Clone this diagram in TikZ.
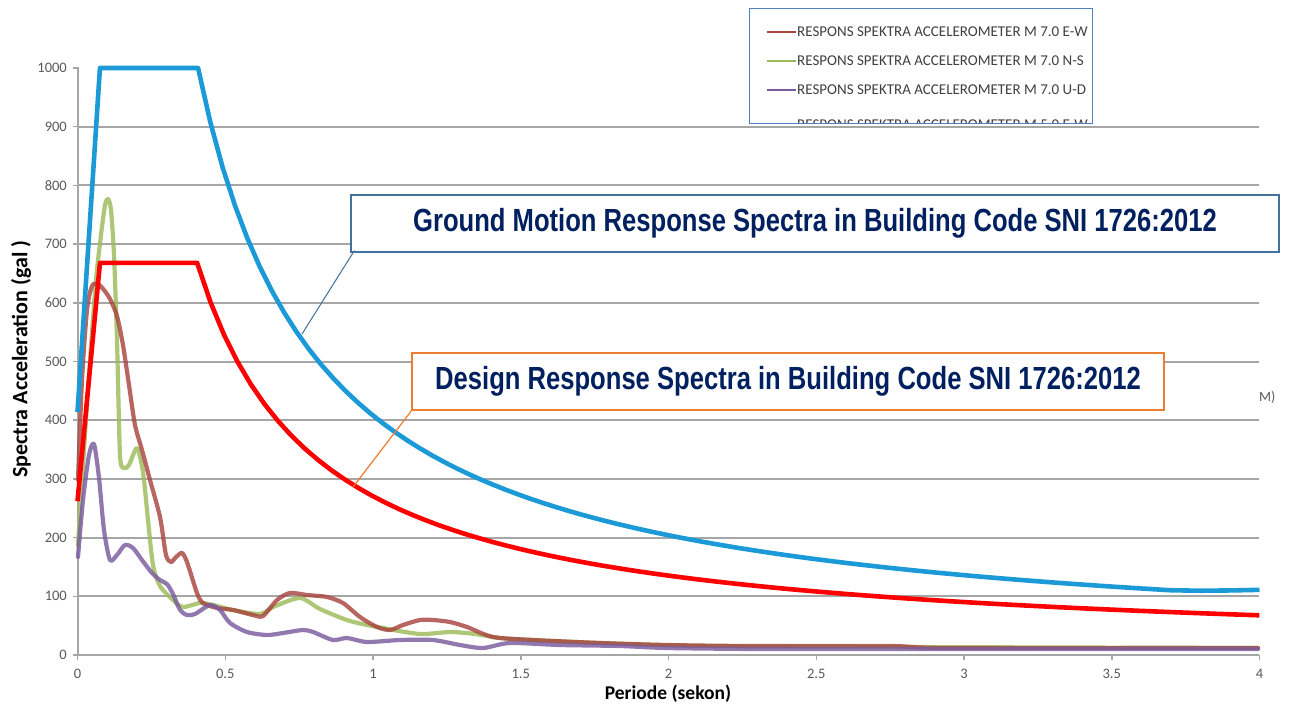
\documentclass[tikz,border=0pt]{standalone}
\usepackage{fontspec}
\setmainfont{Carlito}
\newfontfamily\lib{Liberation Sans}
\usepackage{graphicx}
\definecolor{gridgray}{HTML}{A6A6A6}
\definecolor{ticktext}{HTML}{595959}
\definecolor{dblue}{HTML}{1B9AD7}
\definecolor{dred}{HTML}{FF0000}
\definecolor{ewred}{HTML}{A8453F}
\definecolor{nsgreen}{HTML}{9BBB59}
\definecolor{udpurple}{HTML}{7A5C9E}
\definecolor{navy}{HTML}{002060}
\definecolor{callblue}{HTML}{41719C}
\definecolor{callorange}{HTML}{ED7D31}
\definecolor{legblue}{HTML}{4F81BD}
\definecolor{legtext}{HTML}{404040}
\tikzset{
  gridline/.style={draw=gridgray, line width=2pt},
  axisline/.style={draw=gridgray, line width=1.5pt},
  ticklab/.style={text=ticktext, font=\fontsize{14.5}{16}\selectfont, inner sep=0pt},
  accel/.style={line width=4.2pt, opacity=0.82, line join=round, line cap=round, smooth, tension=0.45},
  design/.style={line width=4.6pt, line join=round},
  callout/.style={fill=white, minimum height=57pt, inner sep=0pt, text=navy},
  legentry/.style={anchor=west, text=legtext, inner sep=0pt, font=\fontsize{15}{17}\selectfont},
  legsample/.style={line width=2pt}
}
\newcommand{\callfont}[1]{\scalebox{0.8}[1]{\lib\bfseries\fontsize{32}{36}\selectfont #1}}
\begin{document}
\begin{tikzpicture}[x=1pt,y=-1pt]
\useasboundingbox (0,0) rectangle (1290,706);
\fill[white] (0,0) rectangle (1290,706);

% grid lines
\foreach \v in {1,...,9}{
  \draw[gridline] (78,{655-58.7*\v}) -- (1259,{655-58.7*\v});
}
% axes
\draw[axisline] (78,655) -- (78,67);
\draw[axisline] (78,655) -- (1259,655);
% y ticks and labels
\foreach \v in {0,...,10}{
  \pgfmathtruncatemacro{\lab}{100*\v}
  \draw[axisline] (73,{655-58.7*\v}) -- (78,{655-58.7*\v});
  \node[ticklab, anchor=east] (yl\v) at (67,{655-58.7*\v}) {\lab};
}
% x ticks and labels
\foreach \t/\lab in {0/0,1/0.5,2/1,3/1.5,4/2,5/2.5,6/3,7/3.5,8/4}{
  \draw[axisline] ({77.5+147.75*\t},655) -- ({77.5+147.75*\t},660);
  \node[ticklab] (xl\t) at ({77.5+147.75*\t},674) {\lab};
}
% axis titles
\node[rotate=90, font=\bfseries\fontsize{22}{24}\selectfont, text=black] (ytitle) at (21,359) {Spectra Acceleration (gal )};
\node[font=\bfseries\fontsize{19.5}{22}\selectfont, text=black] (xtitle) at (668,694) {Periode (sekon)};

% accelerometer records (pixel coordinates)
\draw[accel, nsgreen] plot coordinates {(78,545) (84,450) (90,360) (96,280) (101,235) (105,205) (108,199) (111,210) (114,255) (117,340) (120,455) (124,468) (129,465) (137,448) (143,472) (148,520) (153,565) (160,586) (173,600) (183,607) (200,603) (213,605) (233,610) (260,614) (273,607) (300,598) (320,609) (350,621) (383,628) (420,634) (450,632) (475,634) (500,638) (533,640) (600,643) (700,646) (900,647) (1258,648)};
\draw[accel, ewred] plot coordinates {(78,480) (82,380) (87,310) (92,286) (98,284) (104,290) (110,299) (117,316) (123,345) (129,385) (135,425) (142,450) (150,480) (160,517) (166,555) (171,562) (176,557) (182,553) (187,562) (197,593) (203,603) (217,608) (233,610) (253,615) (263,616) (277,600) (290,593) (307,595) (327,597) (343,603) (360,617) (377,627) (390,630) (403,625) (420,620) (433,620) (450,622) (467,627) (493,637) (533,640) (600,643) (667,645) (750,646) (890,646) (950,648) (1258,648)};
\draw[accel, udpurple] plot coordinates {(78,557) (83,500) (89,455) (94,444) (99,478) (104,530) (110,560) (117,555) (125,545) (133,548) (142,560) (152,573) (160,580) (167,584) (173,594) (180,610) (187,615) (195,614) (210,605) (220,610) (230,623) (247,632) (267,635) (283,633) (303,630) (313,632) (333,640) (347,638) (367,642) (400,640) (433,640) (460,645) (483,648) (510,643) (560,645) (620,646) (667,648) (760,649) (900,649) (1258,649)};

% design spectra (data coordinates)
\begin{scope}[shift={(77.5,655)}, x=295.5pt, y=0.587pt]
  \draw[design, dred] (0,262) -- (0.076,668) -- (0.405,668) -- plot[domain=0.405:4, samples=80] (\x,{270.5/\x});
  \draw[design, dblue] (0,414) -- (0.076,1000) -- (0.408,1000) -- plot[domain=0.408:3.7, samples=80] (\x,{408/\x}) -- (3.8,109.5) -- (3.9,110) -- (4,111);
\end{scope}

% callouts
\node[callout, draw=callblue, line width=1.3pt, minimum width=928pt] (gm) at (815,223.5) {\callfont{Ground Motion Response Spectra in Building Code SNI 1726:2012}};
\node[callout, draw=callorange, line width=1.8pt, minimum width=752pt] (ds) at (788,381.5) {\callfont{Design Response Spectra in Building Code SNI 1726:2012}};
\coordinate (gmtip) at (302,334);
\coordinate (dstip) at (353,487);
\draw[callblue, line width=1pt] ([xshift=4pt,yshift=2pt]gm.south west) -- (gmtip);
\draw[callorange, line width=1.2pt] ([xshift=1pt,yshift=1pt]ds.south west) -- (dstip);

% clipped legend text on the right
\node[anchor=west, text=ticktext, inner sep=0pt, font=\fontsize{14}{16}\selectfont] (mtail) at (1259,397) {M)};

% legend
\node[draw=legblue, line width=1.2pt, fill=white, minimum width=343pt, minimum height=115pt, anchor=north west, inner sep=0pt] (leg) at (749,8) {};
\begin{scope}
  \clip (749.6,8.6) rectangle (1091.4,122.4);
  \draw[legsample, draw=ewred] (767,32) -- (796,32);
  \node[legentry] (le1) at (797,32) {RESPONS SPEKTRA ACCELEROMETER M 7.0 E-W};
  \draw[legsample, draw=nsgreen] (767,61) -- (796,61);
  \node[legentry] (le2) at (797,61) {RESPONS SPEKTRA ACCELEROMETER M 7.0 N-S};
  \draw[legsample, draw=udpurple] (767,90) -- (796,90);
  \node[legentry] (le3) at (797,90) {RESPONS SPEKTRA ACCELEROMETER M 7.0 U-D};
  \draw[legsample, draw=legblue] (767,124) -- (796,124);
  \node[legentry] (le4) at (797,125) {RESPONS SPEKTRA ACCELEROMETER M 5.0 E-W};
\end{scope}
\end{tikzpicture}
\end{document}
